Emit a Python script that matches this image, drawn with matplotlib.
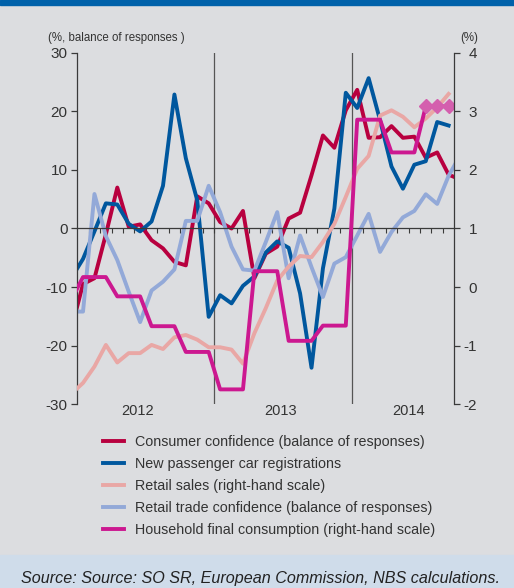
import numpy as np
import matplotlib.pyplot as plt
from matplotlib.patches import Rectangle
import matplotlib.transforms as mtransforms

plt.rcParams['font.family'] = ['Liberation Sans', 'DejaVu Sans']
plt.rcParams['axes.unicode_minus'] = False

# months: Dec 2011 (-1) .. Oct 2014 (33); Jan 2012 = 0
years = ['2012', '2013', '2014']
year_label_pos = [4.8, 17.3, 28.5]
year_breaks = [11.5, 23.5]

# left-hand scale (balance of responses / %)
consumer_conf = [-17.0, -9.5, -8.5, -1.0, 7.0, 0.3, 0.7, -2.0, -3.4, -5.7, -6.3, 5.5, 4.3,
                 1.1, 0.0, 3.0, -8.5, -4.3, -3.1, 1.7, 2.7, 9.1, 15.9, 13.8, 20.2,
                 23.7, 15.5, 15.6, 17.5, 15.5, 15.7, 12.1, 13.0, 9.2, 8.4]
car_reg = [-8.4, -5.2, -0.5, 4.3, 4.1, 0.8, -0.5, 1.2, 7.3, 22.9, 12.0, 4.8, -15.1,
           -11.4, -12.8, -9.8, -8.2, -4.1, -2.2, -3.3, -11.1, -23.8, -6.8, 3.4, 23.2,
           20.6, 25.7, 18.5, 10.6, 6.8, 10.9, 11.5, 18.2, 17.6]
retail_conf = [-14.2, -14.2, 5.9, -1.3, -5.4, -10.8, -16.0, -10.6, -9.1, -7.0, 1.3, 1.3, 7.3,
               2.8, -3.1, -7.0, -7.2, -2.3, 2.8, -8.5, -1.2, -6.6, -11.7, -6.0, -4.9,
               -1.2, 2.5, -4.0, -0.6, 1.9, 3.0, 5.85, 4.2, 9.0, 12.5]

# right-hand scale (%)
retail_sales = [-1.82, -1.64, -1.36, -0.99, -1.29, -1.13, -1.13, -0.99, -1.06, -0.86, -0.82, -0.90, -1.03,
                -1.03, -1.07, -1.31, -0.79, -0.36, 0.11, 0.35, 0.53, 0.51, 0.77, 1.08, 1.54,
                2.02, 2.24, 2.93, 3.02, 2.91, 2.73, 2.88, 3.07, 3.30]
household = [-0.21, 0.17, 0.17, 0.17, -0.16, -0.16, -0.16, -0.67, -0.67, -0.67, -1.11, -1.11, -1.11,
             -1.75, -1.75, -1.75, 0.27, 0.27, 0.27, -0.92, -0.92, -0.92, -0.66, -0.66, -0.66,
             2.86, 2.86, 2.86, 2.30, 2.30, 2.30, 3.09]
household_fc_months = [30, 31, 32]
household_fc = [3.09, 3.09, 3.09]

bg = '#dcdde0'
dark = '#3a3a3a'
c_red = '#b8003f'
c_blue = '#00579e'
c_pink = '#e9a7a5'
c_lblue = '#93a9d8'
c_mag = '#cc1890'
c_fc = '#d45fae'
lw = 2.8

fig = plt.figure(figsize=(5.14, 5.88), dpi=100, facecolor=bg)
fig.patches.append(Rectangle((0, 1 - 5 / 588), 1, 5 / 588, transform=fig.transFigure,
                             color='#0061aa', zorder=0))
fig.patches.append(Rectangle((0, 0), 1, 33 / 588, transform=fig.transFigure,
                             color='#cfdcea', zorder=0))

ax = fig.add_axes([0.1504, 0.3129, 0.7335, 0.597])
ax.set_facecolor(bg)
ax2 = ax.twinx()

def xs(series):
    return np.arange(-1, len(series) - 1)

h1, = ax.plot(xs(consumer_conf), consumer_conf, color=c_red, lw=lw)
h2, = ax.plot(xs(car_reg), car_reg, color=c_blue, lw=lw)
h4, = ax.plot(xs(retail_conf), retail_conf, color=c_lblue, lw=lw)
h3, = ax2.plot(xs(retail_sales), retail_sales, color=c_pink, lw=lw)
h5, = ax2.plot(xs(household), household, color=c_mag, lw=lw)
ax2.plot(household_fc_months, household_fc, color=c_fc, lw=lw, marker='D', markersize=7.5)

ax.set_xlim(-0.5, 32.5)
ax.set_ylim(-30, 30)
ax2.set_ylim(-2, 4)

for b in year_breaks:
    ax.axvline(b, color='#555555', lw=0.9, zorder=0)

for a in (ax, ax2):
    a.spines['top'].set_visible(False)
ax.spines['right'].set_visible(False)
ax2.spines['left'].set_visible(False)
ax2.spines['bottom'].set_visible(False)
ax.spines['bottom'].set_position(('data', 0))
for s in ('left', 'bottom'):
    ax.spines[s].set_color(dark)
    ax.spines[s].set_linewidth(0.9)
ax2.spines['right'].set_color(dark)
ax2.spines['right'].set_linewidth(0.9)

ax.set_xticks(np.arange(0.5, 32, 1))
ax.tick_params(axis='x', direction='out', length=3.6, width=0.8, color=dark, labelbottom=False)
ax.set_yticks(range(-30, 31, 10))
ax.tick_params(axis='y', direction='out', length=4.1, width=0.9, color=dark,
               labelsize=11, labelcolor='#333333', pad=3)
ax2.set_yticks(range(-2, 5))
ax2.tick_params(axis='y', direction='out', length=4, width=0.9, color=dark,
                labelsize=11, labelcolor='#333333', pad=12.5)
for t in ax2.get_yticklabels():
    t.set_horizontalalignment('right')

trans = mtransforms.blended_transform_factory(ax.transData, ax.transAxes)
for pos, yr in zip(year_label_pos, years):
    ax.text(pos, -0.02, yr, transform=trans, ha='center', va='center',
            fontsize=10.5, color='#333333')

fig.text(48 / 514, 1 - 38 / 588, '(%, balance of responses )', ha='left', va='center',
         fontsize=8.3, color='#333333')
fig.text(469 / 514, 1 - 38 / 588, '(%)', ha='center', va='center', fontsize=8.3, color='#333333')

labels = ['Consumer confidence (balance of responses)',
          'New passenger car registrations',
          'Retail sales (right-hand scale)',
          'Retail trade confidence (balance of responses)',
          'Household final consumption (right-hand scale)']
fig.legend([h1, h2, h3, h4, h5], labels, loc='upper left', bbox_to_anchor=(103 / 514, 0.2605),
           frameon=False, fontsize=10.25, handlelength=1.45, handletextpad=0.8,
           labelspacing=0.57, borderpad=0, borderaxespad=0, labelcolor='#333333')

fig.text(21 / 514, 5 / 588, 'Source: Source: SO SR, European Commission, NBS calculations.',
         ha='left', va='baseline', fontsize=11.6, style='italic', color='#222222')

fig.savefig('out.png', dpi=100, facecolor=bg)
